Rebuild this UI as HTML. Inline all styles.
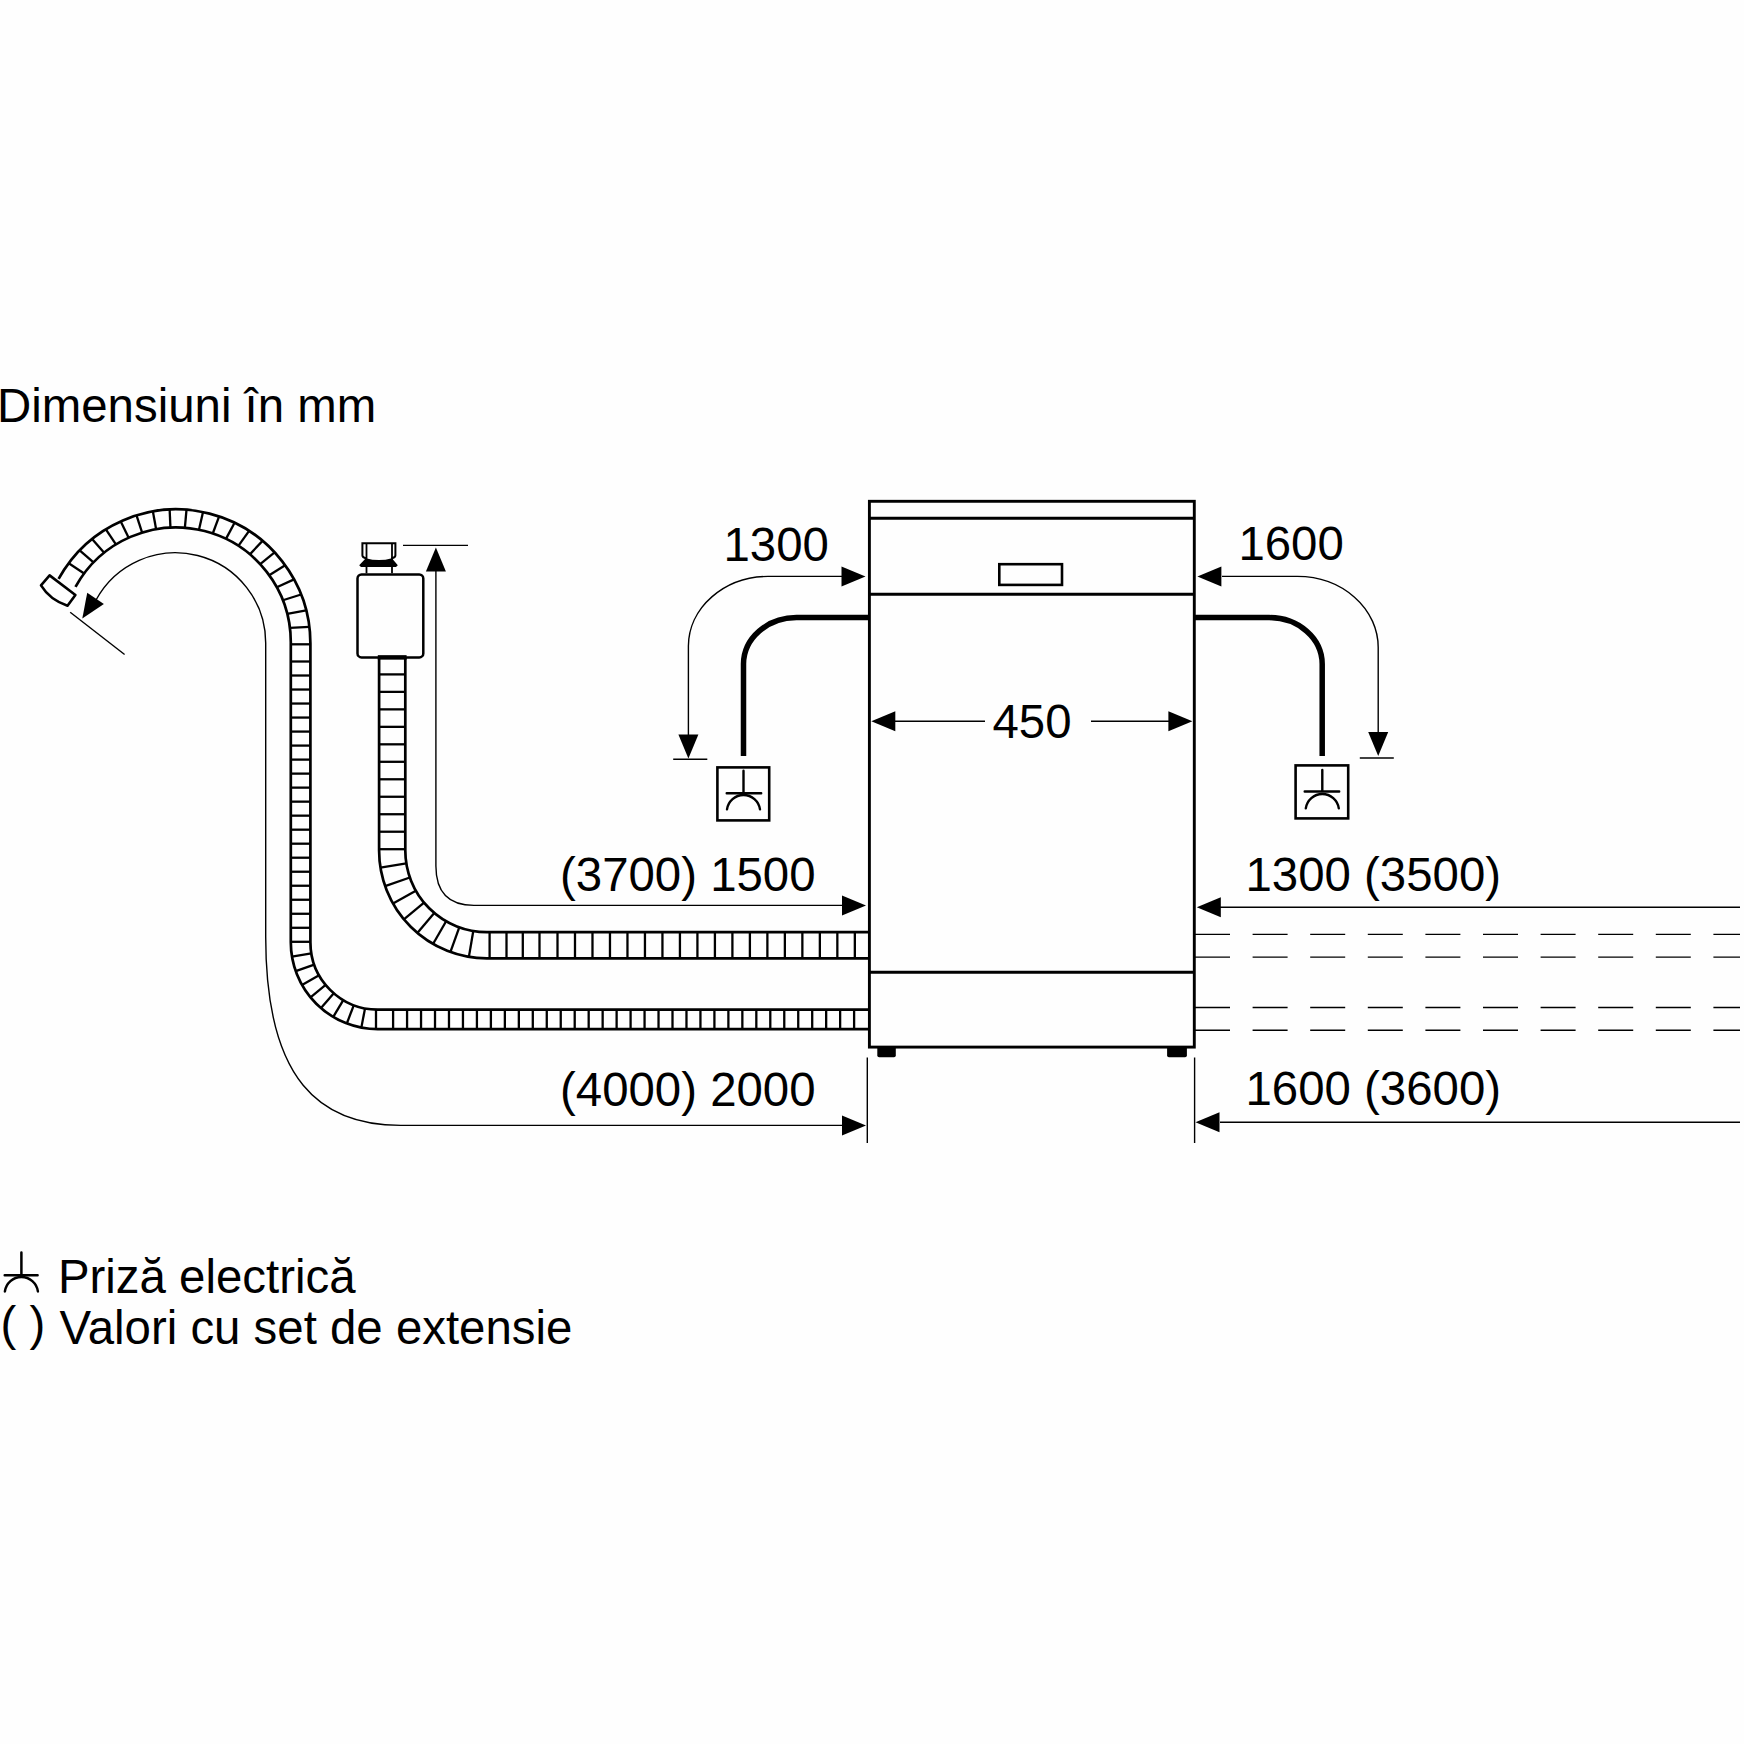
<!DOCTYPE html>
<html><head><meta charset="utf-8"><style>
html,body{margin:0;padding:0;background:#fefefe;}
svg{display:block;}
text{font-family:"Liberation Sans",sans-serif;fill:#000;stroke:none;}
</style></head><body>
<svg width="1744" height="1744" viewBox="0 0 1744 1744" stroke="#000" fill="none">
<rect x="0" y="0" width="1744" height="1744" fill="#fefefe" stroke="none"/>
<path d="M58.6 578.95 A134.2 134.2 0 0 1 310.4 643.6 V942.2 A67.4 67.4 0 0 0 377.8 1009.6 H868" stroke-width="2.7" fill="none" />
<path d="M75.49 586.92 A114.75 114.75 0 0 1 290.8 642.2 V942.2 A87 87 0 0 0 377.8 1029.2 H868" stroke-width="2.7" fill="none" />
<line x1="170.44" y1="527.59" x2="169.64" y2="509.56" stroke-width="2.3" stroke-linecap="butt"/>
<line x1="156.12" y1="529.19" x2="152.9" y2="511.44" stroke-width="2.3" stroke-linecap="butt"/>
<line x1="142.12" y1="532.58" x2="136.52" y2="515.4" stroke-width="2.3" stroke-linecap="butt"/>
<line x1="128.65" y1="537.7" x2="120.76" y2="521.39" stroke-width="2.3" stroke-linecap="butt"/>
<line x1="115.92" y1="544.46" x2="105.88" y2="529.3" stroke-width="2.3" stroke-linecap="butt"/>
<line x1="104.15" y1="552.77" x2="92.11" y2="539.01" stroke-width="2.3" stroke-linecap="butt"/>
<line x1="93.51" y1="562.49" x2="79.66" y2="550.38" stroke-width="2.3" stroke-linecap="butt"/>
<line x1="84.17" y1="573.46" x2="68.74" y2="563.21" stroke-width="2.3" stroke-linecap="butt"/>
<line x1="184.85" y1="527.79" x2="186.5" y2="509.8" stroke-width="2.3" stroke-linecap="butt"/>
<line x1="198.98" y1="529.76" x2="203.02" y2="512.11" stroke-width="2.3" stroke-linecap="butt"/>
<line x1="212.75" y1="533.48" x2="219.13" y2="516.45" stroke-width="2.3" stroke-linecap="butt"/>
<line x1="225.96" y1="538.87" x2="234.57" y2="522.76" stroke-width="2.3" stroke-linecap="butt"/>
<line x1="238.39" y1="545.86" x2="249.11" y2="530.93" stroke-width="2.3" stroke-linecap="butt"/>
<line x1="249.87" y1="554.34" x2="262.53" y2="540.85" stroke-width="2.3" stroke-linecap="butt"/>
<line x1="260.2" y1="564.18" x2="274.61" y2="552.36" stroke-width="2.3" stroke-linecap="butt"/>
<line x1="269.23" y1="575.22" x2="285.17" y2="565.27" stroke-width="2.3" stroke-linecap="butt"/>
<line x1="276.82" y1="587.3" x2="294.05" y2="579.4" stroke-width="2.3" stroke-linecap="butt"/>
<line x1="282.85" y1="600.23" x2="301.1" y2="594.51" stroke-width="2.3" stroke-linecap="butt"/>
<line x1="287.23" y1="613.8" x2="306.23" y2="610.39" stroke-width="2.3" stroke-linecap="butt"/>
<line x1="289.9" y1="627.82" x2="309.34" y2="626.78" stroke-width="2.3" stroke-linecap="butt"/>
<line x1="290.8" y1="644.3" x2="310.4" y2="644.3" stroke-width="2.3" stroke-linecap="butt"/>
<line x1="290.8" y1="661.5" x2="310.4" y2="661.5" stroke-width="2.3" stroke-linecap="butt"/>
<line x1="290.8" y1="675.51" x2="310.4" y2="675.51" stroke-width="2.3" stroke-linecap="butt"/>
<line x1="290.8" y1="689.53" x2="310.4" y2="689.53" stroke-width="2.3" stroke-linecap="butt"/>
<line x1="290.8" y1="703.54" x2="310.4" y2="703.54" stroke-width="2.3" stroke-linecap="butt"/>
<line x1="290.8" y1="717.56" x2="310.4" y2="717.56" stroke-width="2.3" stroke-linecap="butt"/>
<line x1="290.8" y1="731.58" x2="310.4" y2="731.58" stroke-width="2.3" stroke-linecap="butt"/>
<line x1="290.8" y1="745.59" x2="310.4" y2="745.59" stroke-width="2.3" stroke-linecap="butt"/>
<line x1="290.8" y1="759.61" x2="310.4" y2="759.61" stroke-width="2.3" stroke-linecap="butt"/>
<line x1="290.8" y1="773.62" x2="310.4" y2="773.62" stroke-width="2.3" stroke-linecap="butt"/>
<line x1="290.8" y1="787.63" x2="310.4" y2="787.63" stroke-width="2.3" stroke-linecap="butt"/>
<line x1="290.8" y1="801.65" x2="310.4" y2="801.65" stroke-width="2.3" stroke-linecap="butt"/>
<line x1="290.8" y1="815.66" x2="310.4" y2="815.66" stroke-width="2.3" stroke-linecap="butt"/>
<line x1="290.8" y1="829.68" x2="310.4" y2="829.68" stroke-width="2.3" stroke-linecap="butt"/>
<line x1="290.8" y1="843.69" x2="310.4" y2="843.69" stroke-width="2.3" stroke-linecap="butt"/>
<line x1="290.8" y1="857.71" x2="310.4" y2="857.71" stroke-width="2.3" stroke-linecap="butt"/>
<line x1="290.8" y1="871.73" x2="310.4" y2="871.73" stroke-width="2.3" stroke-linecap="butt"/>
<line x1="290.8" y1="885.74" x2="310.4" y2="885.74" stroke-width="2.3" stroke-linecap="butt"/>
<line x1="290.8" y1="899.75" x2="310.4" y2="899.75" stroke-width="2.3" stroke-linecap="butt"/>
<line x1="290.8" y1="913.77" x2="310.4" y2="913.77" stroke-width="2.3" stroke-linecap="butt"/>
<line x1="290.8" y1="927.79" x2="310.4" y2="927.79" stroke-width="2.3" stroke-linecap="butt"/>
<line x1="290.8" y1="941.8" x2="310.4" y2="941.8" stroke-width="2.3" stroke-linecap="butt"/>
<line x1="311.32" y1="953.32" x2="291.99" y2="956.56" stroke-width="2.3" stroke-linecap="butt"/>
<line x1="314.24" y1="964.63" x2="295.76" y2="971.16" stroke-width="2.3" stroke-linecap="butt"/>
<line x1="319.07" y1="975.27" x2="301.99" y2="984.88" stroke-width="2.3" stroke-linecap="butt"/>
<line x1="325.66" y1="984.91" x2="310.5" y2="997.33" stroke-width="2.3" stroke-linecap="butt"/>
<line x1="333.81" y1="993.27" x2="321.02" y2="1008.12" stroke-width="2.3" stroke-linecap="butt"/>
<line x1="343.29" y1="1000.09" x2="333.25" y2="1016.93" stroke-width="2.3" stroke-linecap="butt"/>
<line x1="353.8" y1="1005.18" x2="346.82" y2="1023.5" stroke-width="2.3" stroke-linecap="butt"/>
<line x1="365.03" y1="1008.38" x2="361.32" y2="1027.62" stroke-width="2.3" stroke-linecap="butt"/>
<line x1="376" y1="1009.6" x2="376" y2="1029.2" stroke-width="2.3" stroke-linecap="butt"/>
<line x1="393.1" y1="1009.6" x2="393.1" y2="1029.2" stroke-width="2.3" stroke-linecap="butt"/>
<line x1="407.07" y1="1009.6" x2="407.07" y2="1029.2" stroke-width="2.3" stroke-linecap="butt"/>
<line x1="421.04" y1="1009.6" x2="421.04" y2="1029.2" stroke-width="2.3" stroke-linecap="butt"/>
<line x1="435.01" y1="1009.6" x2="435.01" y2="1029.2" stroke-width="2.3" stroke-linecap="butt"/>
<line x1="448.98" y1="1009.6" x2="448.98" y2="1029.2" stroke-width="2.3" stroke-linecap="butt"/>
<line x1="462.95" y1="1009.6" x2="462.95" y2="1029.2" stroke-width="2.3" stroke-linecap="butt"/>
<line x1="476.92" y1="1009.6" x2="476.92" y2="1029.2" stroke-width="2.3" stroke-linecap="butt"/>
<line x1="490.89" y1="1009.6" x2="490.89" y2="1029.2" stroke-width="2.3" stroke-linecap="butt"/>
<line x1="504.86" y1="1009.6" x2="504.86" y2="1029.2" stroke-width="2.3" stroke-linecap="butt"/>
<line x1="518.83" y1="1009.6" x2="518.83" y2="1029.2" stroke-width="2.3" stroke-linecap="butt"/>
<line x1="532.8" y1="1009.6" x2="532.8" y2="1029.2" stroke-width="2.3" stroke-linecap="butt"/>
<line x1="546.77" y1="1009.6" x2="546.77" y2="1029.2" stroke-width="2.3" stroke-linecap="butt"/>
<line x1="560.74" y1="1009.6" x2="560.74" y2="1029.2" stroke-width="2.3" stroke-linecap="butt"/>
<line x1="574.71" y1="1009.6" x2="574.71" y2="1029.2" stroke-width="2.3" stroke-linecap="butt"/>
<line x1="588.68" y1="1009.6" x2="588.68" y2="1029.2" stroke-width="2.3" stroke-linecap="butt"/>
<line x1="602.65" y1="1009.6" x2="602.65" y2="1029.2" stroke-width="2.3" stroke-linecap="butt"/>
<line x1="616.62" y1="1009.6" x2="616.62" y2="1029.2" stroke-width="2.3" stroke-linecap="butt"/>
<line x1="630.59" y1="1009.6" x2="630.59" y2="1029.2" stroke-width="2.3" stroke-linecap="butt"/>
<line x1="644.56" y1="1009.6" x2="644.56" y2="1029.2" stroke-width="2.3" stroke-linecap="butt"/>
<line x1="658.53" y1="1009.6" x2="658.53" y2="1029.2" stroke-width="2.3" stroke-linecap="butt"/>
<line x1="672.5" y1="1009.6" x2="672.5" y2="1029.2" stroke-width="2.3" stroke-linecap="butt"/>
<line x1="686.47" y1="1009.6" x2="686.47" y2="1029.2" stroke-width="2.3" stroke-linecap="butt"/>
<line x1="700.44" y1="1009.6" x2="700.44" y2="1029.2" stroke-width="2.3" stroke-linecap="butt"/>
<line x1="714.41" y1="1009.6" x2="714.41" y2="1029.2" stroke-width="2.3" stroke-linecap="butt"/>
<line x1="728.38" y1="1009.6" x2="728.38" y2="1029.2" stroke-width="2.3" stroke-linecap="butt"/>
<line x1="742.35" y1="1009.6" x2="742.35" y2="1029.2" stroke-width="2.3" stroke-linecap="butt"/>
<line x1="756.32" y1="1009.6" x2="756.32" y2="1029.2" stroke-width="2.3" stroke-linecap="butt"/>
<line x1="770.29" y1="1009.6" x2="770.29" y2="1029.2" stroke-width="2.3" stroke-linecap="butt"/>
<line x1="784.26" y1="1009.6" x2="784.26" y2="1029.2" stroke-width="2.3" stroke-linecap="butt"/>
<line x1="798.23" y1="1009.6" x2="798.23" y2="1029.2" stroke-width="2.3" stroke-linecap="butt"/>
<line x1="812.2" y1="1009.6" x2="812.2" y2="1029.2" stroke-width="2.3" stroke-linecap="butt"/>
<line x1="826.17" y1="1009.6" x2="826.17" y2="1029.2" stroke-width="2.3" stroke-linecap="butt"/>
<line x1="840.14" y1="1009.6" x2="840.14" y2="1029.2" stroke-width="2.3" stroke-linecap="butt"/>
<line x1="854.11" y1="1009.6" x2="854.11" y2="1029.2" stroke-width="2.3" stroke-linecap="butt"/>
<path d="M379.1 657.4L379.1 850.6L379.1 850.6A107.8 107.8 0 0 0 486.9 958.4L486.9 958.4L868 958.4" stroke-width="2.7" fill="none" />
<path d="M405.3 657.4L405.3 850.6L405.3 850.6A81.6 81.6 0 0 0 486.9 932.2L486.9 932.2L868 932.2" stroke-width="2.7" fill="none" />
<line x1="379.1" y1="674.4" x2="405.3" y2="674.4" stroke-width="2.3" stroke-linecap="butt"/>
<line x1="379.1" y1="691.88" x2="405.3" y2="691.88" stroke-width="2.3" stroke-linecap="butt"/>
<line x1="379.1" y1="709.36" x2="405.3" y2="709.36" stroke-width="2.3" stroke-linecap="butt"/>
<line x1="379.1" y1="726.84" x2="405.3" y2="726.84" stroke-width="2.3" stroke-linecap="butt"/>
<line x1="379.1" y1="744.32" x2="405.3" y2="744.32" stroke-width="2.3" stroke-linecap="butt"/>
<line x1="379.1" y1="761.8" x2="405.3" y2="761.8" stroke-width="2.3" stroke-linecap="butt"/>
<line x1="379.1" y1="779.28" x2="405.3" y2="779.28" stroke-width="2.3" stroke-linecap="butt"/>
<line x1="379.1" y1="796.76" x2="405.3" y2="796.76" stroke-width="2.3" stroke-linecap="butt"/>
<line x1="379.1" y1="814.24" x2="405.3" y2="814.24" stroke-width="2.3" stroke-linecap="butt"/>
<line x1="379.1" y1="831.72" x2="405.3" y2="831.72" stroke-width="2.3" stroke-linecap="butt"/>
<line x1="379.1" y1="849.2" x2="405.3" y2="849.2" stroke-width="2.3" stroke-linecap="butt"/>
<line x1="406.32" y1="863.45" x2="380.44" y2="867.58" stroke-width="2.3" stroke-linecap="butt"/>
<line x1="409.86" y1="877.5" x2="385.13" y2="886.14" stroke-width="2.3" stroke-linecap="butt"/>
<line x1="415.84" y1="890.71" x2="393.02" y2="903.58" stroke-width="2.3" stroke-linecap="butt"/>
<line x1="424.05" y1="902.65" x2="403.87" y2="919.36" stroke-width="2.3" stroke-linecap="butt"/>
<line x1="434.25" y1="912.94" x2="417.35" y2="932.96" stroke-width="2.3" stroke-linecap="butt"/>
<line x1="446.11" y1="921.27" x2="433.02" y2="943.97" stroke-width="2.3" stroke-linecap="butt"/>
<line x1="459.26" y1="927.38" x2="450.38" y2="952.03" stroke-width="2.3" stroke-linecap="butt"/>
<line x1="473.28" y1="931.05" x2="468.9" y2="956.89" stroke-width="2.3" stroke-linecap="butt"/>
<line x1="489.6" y1="932.2" x2="489.6" y2="958.4" stroke-width="2.3" stroke-linecap="butt"/>
<line x1="506.5" y1="932.2" x2="506.5" y2="958.4" stroke-width="2.3" stroke-linecap="butt"/>
<line x1="522.8" y1="932.2" x2="522.8" y2="958.4" stroke-width="2.3" stroke-linecap="butt"/>
<line x1="539.5" y1="932.2" x2="539.5" y2="958.4" stroke-width="2.3" stroke-linecap="butt"/>
<line x1="557.5" y1="932.2" x2="557.5" y2="958.4" stroke-width="2.3" stroke-linecap="butt"/>
<line x1="574.99" y1="932.2" x2="574.99" y2="958.4" stroke-width="2.3" stroke-linecap="butt"/>
<line x1="592.48" y1="932.2" x2="592.48" y2="958.4" stroke-width="2.3" stroke-linecap="butt"/>
<line x1="609.97" y1="932.2" x2="609.97" y2="958.4" stroke-width="2.3" stroke-linecap="butt"/>
<line x1="627.46" y1="932.2" x2="627.46" y2="958.4" stroke-width="2.3" stroke-linecap="butt"/>
<line x1="644.95" y1="932.2" x2="644.95" y2="958.4" stroke-width="2.3" stroke-linecap="butt"/>
<line x1="662.44" y1="932.2" x2="662.44" y2="958.4" stroke-width="2.3" stroke-linecap="butt"/>
<line x1="679.93" y1="932.2" x2="679.93" y2="958.4" stroke-width="2.3" stroke-linecap="butt"/>
<line x1="697.42" y1="932.2" x2="697.42" y2="958.4" stroke-width="2.3" stroke-linecap="butt"/>
<line x1="714.91" y1="932.2" x2="714.91" y2="958.4" stroke-width="2.3" stroke-linecap="butt"/>
<line x1="732.4" y1="932.2" x2="732.4" y2="958.4" stroke-width="2.3" stroke-linecap="butt"/>
<line x1="749.89" y1="932.2" x2="749.89" y2="958.4" stroke-width="2.3" stroke-linecap="butt"/>
<line x1="767.38" y1="932.2" x2="767.38" y2="958.4" stroke-width="2.3" stroke-linecap="butt"/>
<line x1="784.87" y1="932.2" x2="784.87" y2="958.4" stroke-width="2.3" stroke-linecap="butt"/>
<line x1="802.36" y1="932.2" x2="802.36" y2="958.4" stroke-width="2.3" stroke-linecap="butt"/>
<line x1="819.85" y1="932.2" x2="819.85" y2="958.4" stroke-width="2.3" stroke-linecap="butt"/>
<line x1="837.34" y1="932.2" x2="837.34" y2="958.4" stroke-width="2.3" stroke-linecap="butt"/>
<line x1="854.83" y1="932.2" x2="854.83" y2="958.4" stroke-width="2.3" stroke-linecap="butt"/>
<line x1="377.8" y1="657.4" x2="406.6" y2="657.4" stroke-width="4.5" stroke-linecap="butt"/>
<path d="M49.6 575.4 L41 585.4 Q50 600 67.5 605.7 L75.4 595 Z" stroke-width="2.6" fill="none" stroke-linejoin="round"/>
<rect x="357.5" y="574.4" width="65.8" height="83" rx="4" ry="4" stroke-width="2.5" fill="none"/>
<path d="M366.5 543.3 V573.3 M392 543.3 V573.3" stroke-width="1.8" fill="none" />
<path d="M366.5 558.5 Q362.4 557.5 362.4 555.5 V543.3 H395.4 V555.5 Q395.4 557.5 391.3 558.5" stroke-width="2" fill="none" stroke-linejoin="miter"/>
<path d="M365.8 558.2 Q379 562 391.9 558.2 L397.8 565.3 L396 566.9 L361 566.9 L359.2 565.3 Z" stroke="none" fill="#000"/>
<line x1="403" y1="545.4" x2="468" y2="545.4" stroke-width="1.4" stroke-linecap="butt"/>
<polygon points="435.9,547.5 445.9,571.5 425.9,571.5" stroke="none" fill="#000"/>
<path d="M435.9 571 V866 Q435.9 905.4 474 905.4 H842" stroke-width="1.4" fill="none" />
<polygon points="866,905.4 842,915.4 842,895.4" stroke="none" fill="#000"/>
<path d="M96 600 A90.3 90.3 0 0 1 265.7 643.1 V936 C265.5 1081.5 320.8 1125.4 400.7 1125.4 H842" stroke-width="1.4" fill="none" />
<polygon points="82.3,618.4 87.22,592.87 103.89,603.92" stroke="none" fill="#000"/>
<line x1="70.2" y1="612.2" x2="124.6" y2="654.5" stroke-width="1.4" stroke-linecap="butt"/>
<polygon points="866,1125.4 842,1135.4 842,1115.4" stroke="none" fill="#000"/>
<line x1="867.3" y1="1057.5" x2="867.3" y2="1143" stroke-width="1.4" stroke-linecap="butt"/>
<line x1="1194.6" y1="1057.5" x2="1194.6" y2="1143" stroke-width="1.4" stroke-linecap="butt"/>
<line x1="1220" y1="907.3" x2="1740" y2="907.3" stroke-width="1.4" stroke-linecap="butt"/>
<polygon points="1196.8,907.3 1220.8,897.3 1220.8,917.3" stroke="none" fill="#000"/>
<line x1="1220" y1="1122.3" x2="1740" y2="1122.3" stroke-width="1.4" stroke-linecap="butt"/>
<polygon points="1195.5,1122.3 1219.5,1112.3 1219.5,1132.3" stroke="none" fill="#000"/>
<line x1="895" y1="721.3" x2="985" y2="721.3" stroke-width="1.4" stroke-linecap="butt"/>
<polygon points="871.3,721.3 895.3,711.3 895.3,731.3" stroke="none" fill="#000"/>
<line x1="1091" y1="721.3" x2="1170" y2="721.3" stroke-width="1.4" stroke-linecap="butt"/>
<polygon points="1192.4,721.3 1168.4,731.3 1168.4,711.3" stroke="none" fill="#000"/>
<path d="M842 576.4 H768 A80 70 0 0 0 688.4 646 V735" stroke-width="1.4" fill="none" />
<polygon points="865.5,576.4 841.5,586.4 841.5,566.4" stroke="none" fill="#000"/>
<polygon points="688.4,758.6 678.4,734.6 698.4,734.6" stroke="none" fill="#000"/>
<line x1="673.2" y1="759.2" x2="707.3" y2="759.2" stroke-width="1.4" stroke-linecap="butt"/>
<path d="M1222 576.4 H1297 A81 71 0 0 1 1378.2 647.6 V733" stroke-width="1.4" fill="none" />
<polygon points="1197.4,576.4 1221.4,566.4 1221.4,586.4" stroke="none" fill="#000"/>
<polygon points="1378.2,755.9 1368.2,731.9 1388.2,731.9" stroke="none" fill="#000"/>
<line x1="1359.8" y1="758" x2="1393.8" y2="758" stroke-width="1.4" stroke-linecap="butt"/>
<line x1="1195" y1="934.4" x2="1740" y2="934.4" stroke-width="1.4" stroke-dasharray="35 22.6" stroke-dashoffset="0"/>
<line x1="1195" y1="957.1" x2="1740" y2="957.1" stroke-width="1.4" stroke-dasharray="35 22.6" stroke-dashoffset="0"/>
<line x1="1195" y1="1007.5" x2="1740" y2="1007.5" stroke-width="1.4" stroke-dasharray="35 22.6" stroke-dashoffset="0"/>
<line x1="1195" y1="1030.2" x2="1740" y2="1030.2" stroke-width="1.4" stroke-dasharray="35 22.6" stroke-dashoffset="0"/>
<rect x="869.4" y="501.3" width="324.9" height="545.8" stroke-width="2.9" fill="none"/>
<path d="M869.4 518.2 H1194.3 M869.4 594.2 H1194.3 M869.4 972.2 H1194.3" stroke-width="2.9" fill="none" />
<rect x="999.3" y="564.2" width="62.7" height="20.7" stroke-width="2.6" fill="none"/>
<path d="M877.3 1047 H895.8 V1055.5 Q895.8 1057.3 894 1057.3 H879.1 Q877.3 1057.3 877.3 1055.5 Z" stroke="none" fill="#000"/>
<path d="M1167.1 1047 H1186.9 V1055.5 Q1186.9 1057.3 1185.1 1057.3 H1168.9 Q1167.1 1057.3 1167.1 1055.5 Z" stroke="none" fill="#000"/>
<path d="M868 617.6 H796.5 A53 46.7 0 0 0 743.5 664 V755.9" stroke-width="5.5" fill="none" />
<path d="M1193 617.6 H1269.2 A53 46.7 0 0 1 1322.2 664 V755.9" stroke-width="5.5" fill="none" />
<rect x="717.4" y="767.4" width="51.8" height="53" stroke-width="2.6" fill="none"/>
<path d="M743.5 770.8 V793.3 M726.7 793.3 H761.2" stroke-width="2.4" fill="none" stroke-linecap="round"/>
<path d="M727 809.4 A16.65 16.65 0 0 1 760 809.4" stroke-width="2.4" fill="none" stroke-linecap="round"/>
<rect x="1295.6" y="765.4" width="52.6" height="53" stroke-width="2.6" fill="none"/>
<path d="M1322.3 769.9 V791.5 M1304.7 791.5 H1339.2" stroke-width="2.4" fill="none" stroke-linecap="round"/>
<path d="M1305.8 808.4 A16.65 16.65 0 0 1 1338.8 808.4" stroke-width="2.4" fill="none" stroke-linecap="round"/>
<path d="M21.4 1252.6 V1275.3 M4.7 1275.3 H37.6" stroke-width="2.5" fill="none" stroke-linecap="round"/>
<path d="M4.9 1291.4 A16.65 16.65 0 0 1 37.9 1291.4" stroke-width="2.5" fill="none" stroke-linecap="round"/>
<text x="-3" y="422.3" font-size="47.4" text-anchor="start">Dimensiuni în mm</text>
<text x="723.5" y="561" font-size="47.4" text-anchor="start">1300</text>
<text x="1238.4" y="559.5" font-size="47.4" text-anchor="start">1600</text>
<text x="992.5" y="738.1" font-size="47.4" text-anchor="start">450</text>
<text x="560" y="890.6" font-size="47.4" text-anchor="start">(3700) 1500</text>
<text x="1245.5" y="891.1" font-size="47.4" text-anchor="start">1300 (3500)</text>
<text x="560" y="1105.6" font-size="47.4" text-anchor="start">(4000) 2000</text>
<text x="1245.5" y="1104.5" font-size="47.4" text-anchor="start">1600 (3600)</text>
<text x="57.9" y="1293.3" font-size="47.4" text-anchor="start">Priză electrică</text>
<text x="0.6" y="1339.9" font-size="47.4" text-anchor="start">( )</text>
<text x="59.6" y="1343.9" font-size="47.4" text-anchor="start">Valori cu set de extensie</text>
</svg></body></html>
